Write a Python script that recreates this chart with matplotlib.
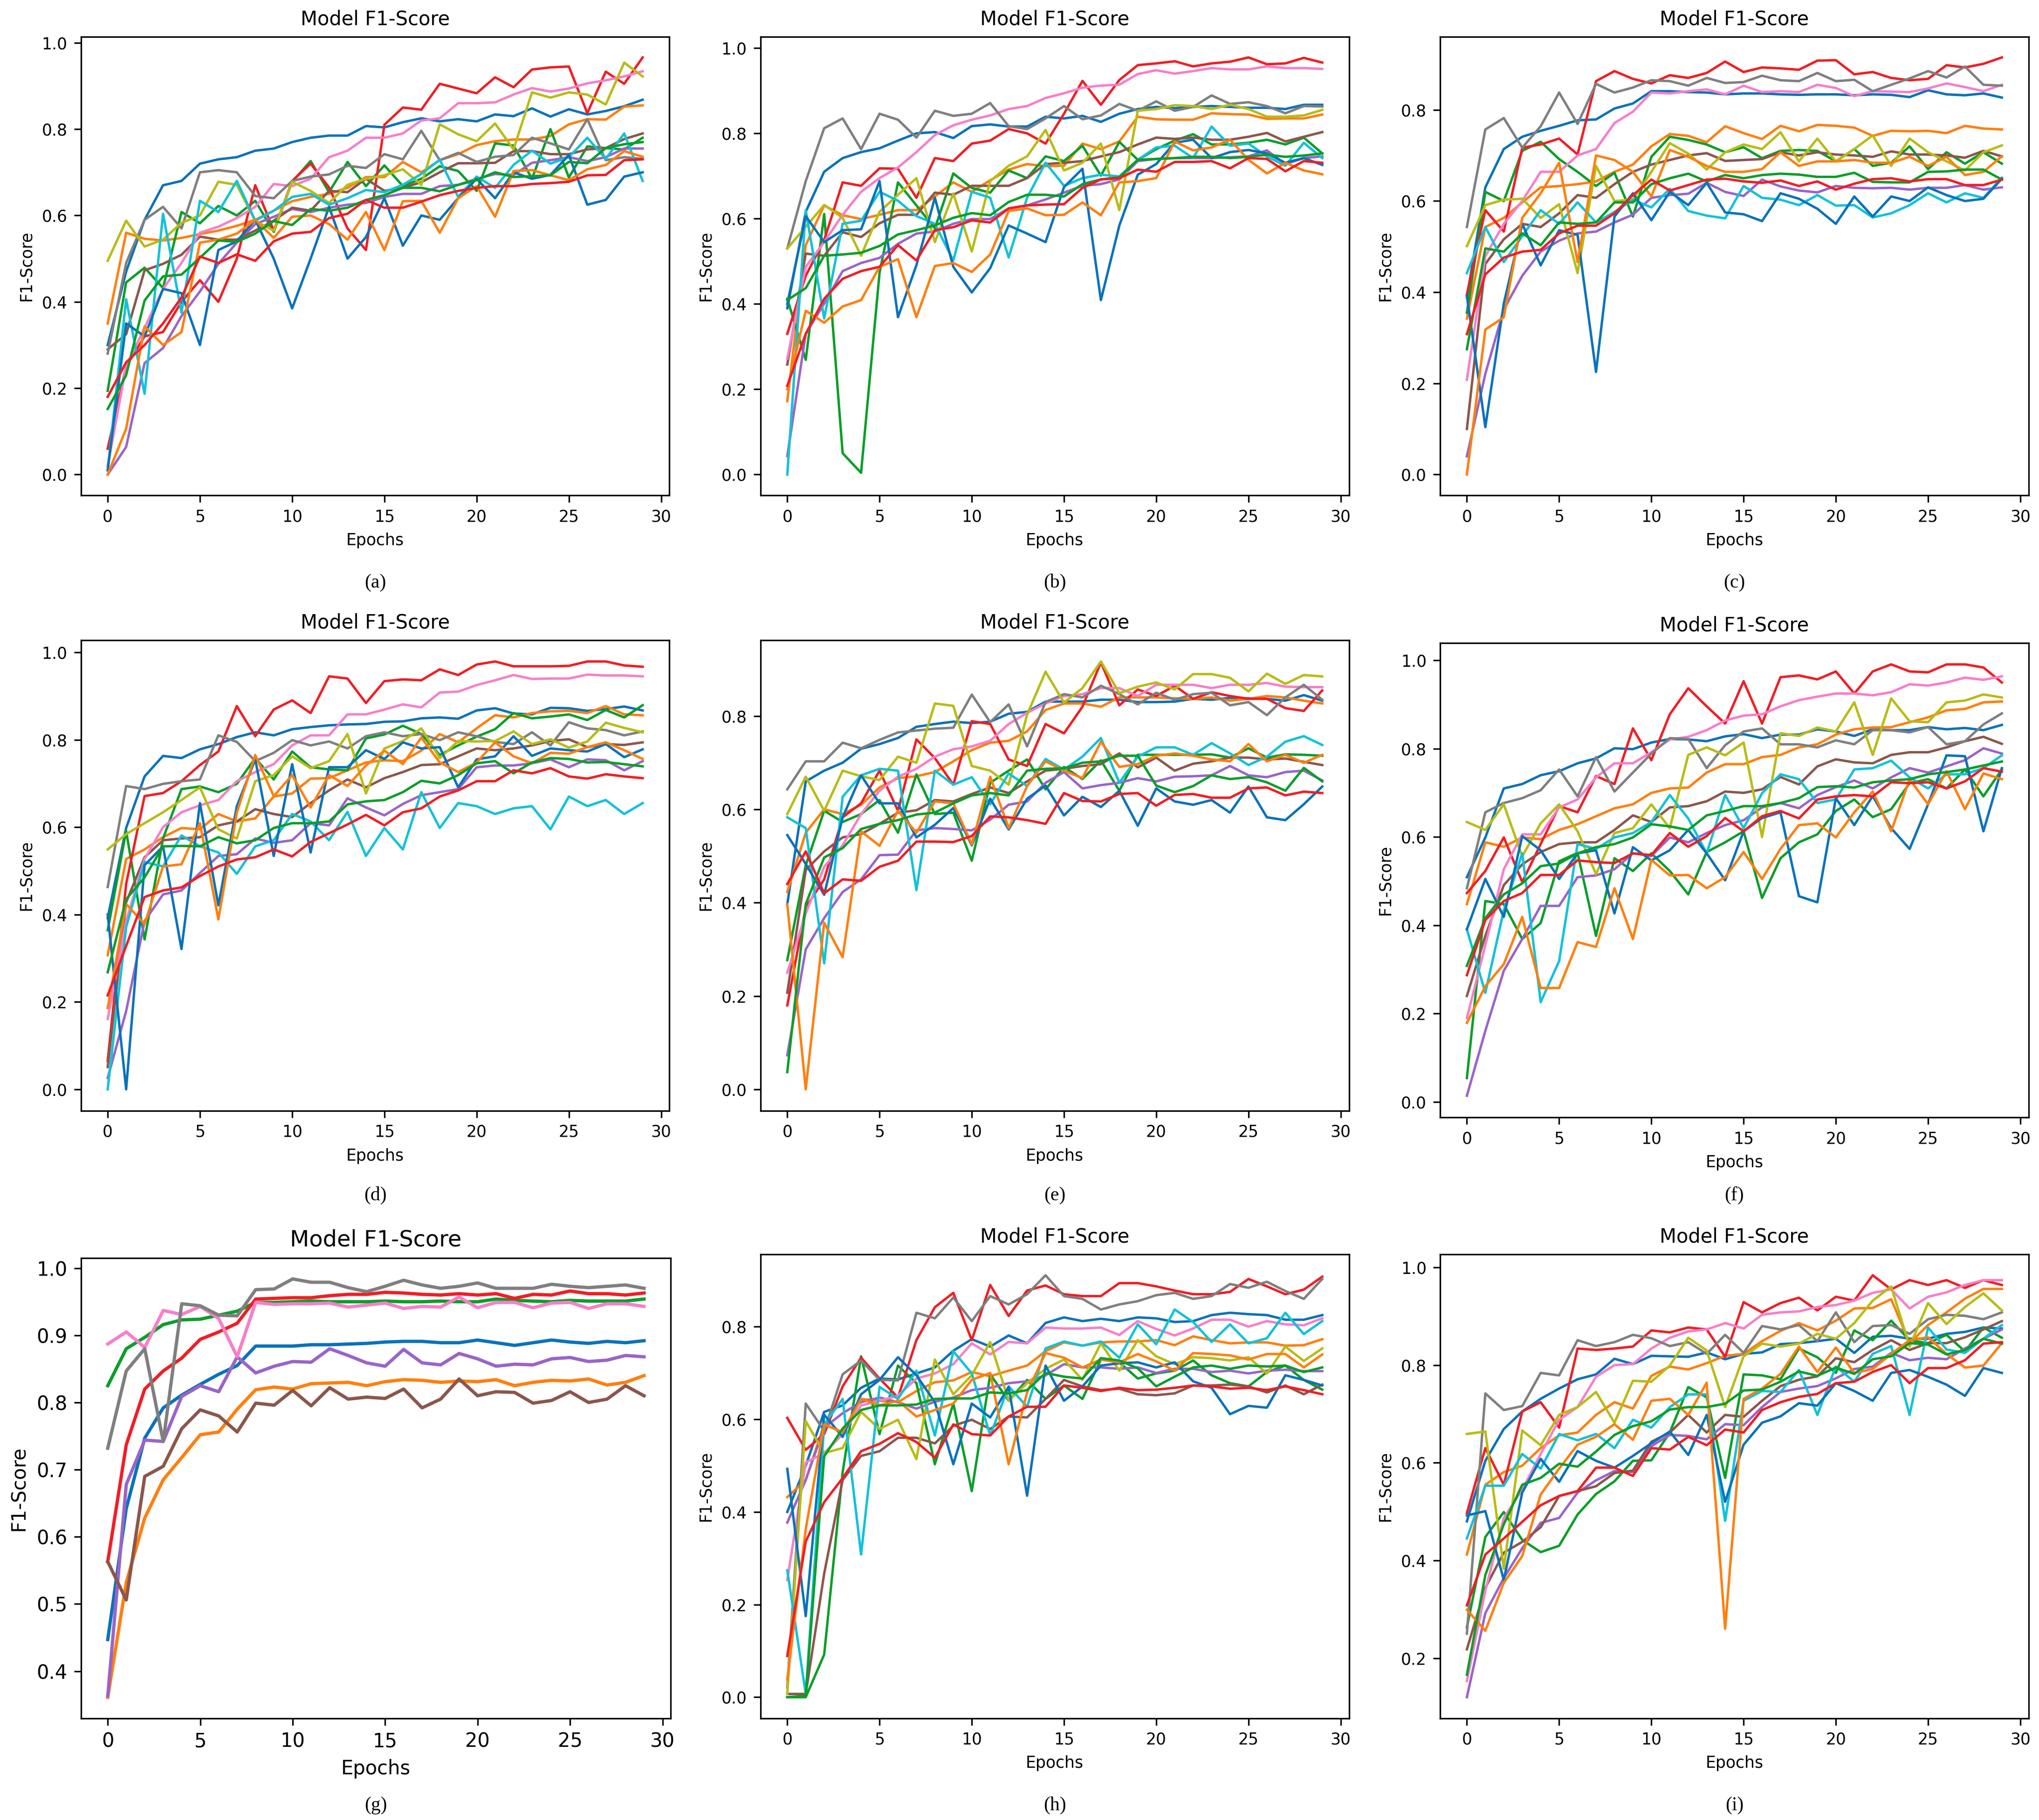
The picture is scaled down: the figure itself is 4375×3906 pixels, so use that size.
import matplotlib.pyplot as plt

epochs = list(range(30))

# tab10 order, a bit more saturated like the scanned figure
line_colors = ['#0a72ba', '#ff7f0e', '#0b9e2a', '#f21d24', '#9a64c8',
               '#8c564b', '#f77fc9', '#7f7f7f', '#b8bc14', '#12c2d8']

panel_a = [
    [0.30,0.47,0.59,0.67,0.68,0.72,0.73,0.735,0.75,0.755,0.77,0.78,0.785,0.785,0.807,0.804,0.816,0.825,0.818,0.823,0.818,0.834,0.83,0.848,0.829,0.846,0.834,0.842,0.853,0.868],
    [0.35,0.56,0.546,0.542,0.548,0.557,0.565,0.576,0.59,0.611,0.633,0.643,0.65,0.664,0.689,0.689,0.724,0.70,0.728,0.742,0.763,0.772,0.776,0.776,0.784,0.811,0.823,0.822,0.852,0.855],
    [0.194,0.445,0.479,0.432,0.608,0.582,0.622,0.60,0.634,0.562,0.678,0.726,0.654,0.724,0.668,0.716,0.668,0.685,0.714,0.703,0.657,0.767,0.762,0.685,0.80,0.688,0.76,0.756,0.753,0.78],
    [0.06,0.25,0.32,0.33,0.40,0.45,0.40,0.50,0.67,0.565,0.68,0.72,0.665,0.57,0.52,0.81,0.85,0.845,0.905,0.894,0.883,0.92,0.897,0.938,0.943,0.945,0.837,0.933,0.905,0.966],
    [0.0,0.064,0.258,0.293,0.367,0.424,0.488,0.537,0.58,0.597,0.615,0.608,0.618,0.625,0.629,0.643,0.65,0.65,0.668,0.671,0.685,0.696,0.694,0.722,0.728,0.735,0.726,0.735,0.755,0.755],
    [0.29,0.325,0.473,0.488,0.509,0.551,0.544,0.544,0.565,0.588,0.618,0.611,0.657,0.654,0.685,0.657,0.664,0.677,0.70,0.721,0.721,0.722,0.749,0.749,0.742,0.742,0.753,0.756,0.777,0.79],
    [0.02,0.25,0.34,0.43,0.49,0.56,0.574,0.594,0.62,0.673,0.668,0.685,0.735,0.75,0.78,0.78,0.79,0.82,0.825,0.86,0.86,0.862,0.88,0.895,0.887,0.894,0.906,0.913,0.922,0.934],
    [0.28,0.49,0.59,0.62,0.57,0.70,0.705,0.70,0.645,0.64,0.68,0.69,0.695,0.715,0.71,0.742,0.73,0.796,0.728,0.745,0.724,0.736,0.74,0.78,0.767,0.753,0.823,0.728,0.735,0.731],
    [0.495,0.588,0.528,0.544,0.583,0.60,0.678,0.671,0.587,0.565,0.678,0.657,0.629,0.671,0.685,0.693,0.707,0.671,0.811,0.788,0.772,0.813,0.753,0.885,0.873,0.885,0.88,0.857,0.954,0.922],
    [0.01,0.406,0.187,0.604,0.375,0.634,0.608,0.68,0.588,0.611,0.643,0.65,0.625,0.64,0.659,0.654,0.671,0.696,0.729,0.643,0.69,0.664,0.717,0.75,0.72,0.735,0.78,0.731,0.79,0.68],
    [0.01,0.35,0.32,0.43,0.42,0.30,0.52,0.54,0.59,0.50,0.385,0.50,0.62,0.50,0.55,0.64,0.53,0.60,0.59,0.64,0.685,0.64,0.70,0.685,0.694,0.74,0.625,0.636,0.69,0.70],
    [0.0,0.106,0.343,0.30,0.33,0.537,0.544,0.558,0.59,0.548,0.597,0.60,0.58,0.544,0.608,0.52,0.633,0.634,0.56,0.64,0.668,0.597,0.703,0.705,0.693,0.682,0.707,0.717,0.749,0.736],
    [0.152,0.23,0.403,0.459,0.463,0.502,0.542,0.539,0.558,0.587,0.578,0.615,0.611,0.618,0.636,0.647,0.664,0.664,0.656,0.671,0.682,0.70,0.689,0.691,0.693,0.724,0.721,0.756,0.765,0.77],
    [0.18,0.26,0.30,0.35,0.41,0.505,0.49,0.51,0.495,0.54,0.558,0.562,0.594,0.604,0.636,0.618,0.618,0.632,0.647,0.657,0.664,0.668,0.668,0.673,0.675,0.678,0.693,0.694,0.728,0.73],
]

panel_b = [
    [0.39,0.616,0.71,0.742,0.756,0.765,0.783,0.80,0.803,0.789,0.817,0.821,0.816,0.816,0.839,0.835,0.841,0.827,0.846,0.857,0.862,0.859,0.862,0.864,0.862,0.86,0.86,0.857,0.867,0.867],
    [0.172,0.538,0.631,0.608,0.599,0.609,0.62,0.62,0.652,0.685,0.663,0.69,0.715,0.728,0.723,0.724,0.776,0.763,0.781,0.839,0.833,0.832,0.832,0.847,0.845,0.844,0.834,0.835,0.835,0.844],
    [0.412,0.269,0.611,0.05,0.004,0.473,0.685,0.631,0.577,0.706,0.672,0.661,0.713,0.695,0.746,0.735,0.771,0.701,0.78,0.738,0.763,0.783,0.798,0.774,0.774,0.778,0.785,0.774,0.79,0.753],
    [0.33,0.466,0.55,0.685,0.677,0.718,0.717,0.649,0.742,0.735,0.776,0.783,0.81,0.80,0.776,0.846,0.923,0.867,0.925,0.96,0.964,0.969,0.957,0.964,0.968,0.978,0.962,0.964,0.977,0.966],
    [0.043,0.33,0.401,0.477,0.496,0.508,0.541,0.565,0.57,0.588,0.599,0.599,0.624,0.631,0.645,0.661,0.677,0.681,0.692,0.735,0.74,0.742,0.742,0.742,0.744,0.746,0.76,0.728,0.742,0.746],
    [0.258,0.518,0.513,0.568,0.557,0.589,0.609,0.609,0.661,0.656,0.677,0.677,0.677,0.695,0.728,0.731,0.735,0.746,0.756,0.774,0.79,0.787,0.79,0.785,0.785,0.792,0.801,0.781,0.792,0.803],
    [0.272,0.487,0.545,0.609,0.663,0.695,0.72,0.756,0.796,0.819,0.832,0.842,0.857,0.864,0.883,0.894,0.907,0.912,0.914,0.939,0.948,0.94,0.946,0.953,0.95,0.95,0.957,0.953,0.953,0.951],
    [0.53,0.688,0.812,0.835,0.763,0.846,0.832,0.79,0.853,0.841,0.846,0.871,0.817,0.81,0.835,0.864,0.833,0.842,0.869,0.853,0.875,0.853,0.862,0.889,0.869,0.873,0.864,0.847,0.864,0.863],
    [0.53,0.581,0.632,0.602,0.513,0.616,0.656,0.695,0.545,0.659,0.523,0.688,0.724,0.746,0.808,0.713,0.731,0.776,0.62,0.853,0.857,0.866,0.864,0.857,0.867,0.857,0.839,0.839,0.842,0.855],
    [0.0,0.62,0.366,0.588,0.595,0.663,0.642,0.606,0.588,0.502,0.663,0.649,0.509,0.649,0.731,0.677,0.695,0.703,0.699,0.738,0.767,0.771,0.742,0.816,0.771,0.776,0.746,0.724,0.778,0.742],
    [0.40,0.606,0.545,0.573,0.575,0.688,0.369,0.491,0.649,0.487,0.427,0.484,0.584,0.565,0.545,0.674,0.717,0.409,0.584,0.703,0.728,0.778,0.785,0.742,0.756,0.761,0.753,0.731,0.742,0.726],
    [0.20,0.384,0.356,0.394,0.409,0.487,0.505,0.369,0.489,0.496,0.475,0.516,0.618,0.624,0.608,0.609,0.638,0.608,0.685,0.688,0.695,0.781,0.76,0.767,0.785,0.738,0.706,0.731,0.713,0.704],
    [0.409,0.437,0.513,0.516,0.52,0.536,0.563,0.573,0.584,0.602,0.613,0.608,0.639,0.656,0.656,0.652,0.681,0.692,0.697,0.738,0.74,0.742,0.745,0.745,0.742,0.745,0.75,0.745,0.748,0.753],
    [0.208,0.33,0.412,0.459,0.477,0.487,0.538,0.502,0.573,0.58,0.596,0.591,0.624,0.631,0.633,0.634,0.672,0.692,0.695,0.715,0.71,0.733,0.733,0.735,0.718,0.742,0.74,0.711,0.735,0.731],
]

panel_c = [
    [0.389,0.63,0.714,0.741,0.754,0.765,0.777,0.779,0.803,0.814,0.841,0.841,0.839,0.838,0.834,0.836,0.836,0.834,0.833,0.834,0.834,0.832,0.834,0.833,0.828,0.843,0.834,0.832,0.836,0.827],
    [0.342,0.543,0.563,0.597,0.63,0.633,0.637,0.643,0.664,0.68,0.72,0.747,0.743,0.729,0.764,0.749,0.736,0.765,0.753,0.767,0.765,0.761,0.743,0.754,0.753,0.754,0.749,0.765,0.759,0.757],
    [0.355,0.62,0.60,0.71,0.73,0.692,0.664,0.633,0.662,0.566,0.697,0.741,0.734,0.724,0.707,0.718,0.694,0.71,0.712,0.71,0.687,0.714,0.677,0.684,0.72,0.67,0.707,0.682,0.707,0.682],
    [0.395,0.58,0.533,0.717,0.724,0.737,0.702,0.863,0.885,0.868,0.858,0.876,0.87,0.881,0.906,0.883,0.893,0.891,0.888,0.908,0.909,0.878,0.883,0.87,0.865,0.868,0.898,0.893,0.901,0.915],
    [0.04,0.221,0.362,0.436,0.489,0.513,0.529,0.533,0.553,0.57,0.607,0.613,0.616,0.64,0.62,0.611,0.647,0.632,0.623,0.619,0.633,0.629,0.628,0.629,0.625,0.629,0.629,0.635,0.625,0.63],
    [0.10,0.462,0.516,0.55,0.543,0.573,0.613,0.607,0.637,0.664,0.68,0.69,0.70,0.705,0.688,0.69,0.692,0.707,0.70,0.707,0.702,0.70,0.697,0.709,0.702,0.702,0.70,0.695,0.71,0.698],
    [0.208,0.479,0.55,0.60,0.664,0.664,0.70,0.714,0.771,0.796,0.838,0.836,0.841,0.845,0.834,0.853,0.839,0.841,0.839,0.855,0.848,0.83,0.841,0.84,0.839,0.847,0.858,0.85,0.841,0.855],
    [0.543,0.757,0.782,0.717,0.764,0.838,0.769,0.857,0.838,0.849,0.865,0.863,0.853,0.87,0.859,0.861,0.875,0.865,0.863,0.881,0.863,0.866,0.841,0.855,0.869,0.885,0.871,0.895,0.855,0.853],
    [0.501,0.591,0.603,0.605,0.563,0.593,0.442,0.677,0.60,0.603,0.664,0.727,0.704,0.669,0.707,0.724,0.714,0.751,0.687,0.737,0.687,0.714,0.744,0.677,0.737,0.707,0.687,0.667,0.707,0.722],
    [0.442,0.543,0.466,0.523,0.58,0.55,0.597,0.553,0.576,0.603,0.586,0.627,0.578,0.568,0.562,0.633,0.607,0.603,0.591,0.613,0.59,0.591,0.564,0.573,0.591,0.617,0.597,0.617,0.607,0.651],
    [0.392,0.104,0.375,0.55,0.459,0.536,0.526,0.225,0.566,0.617,0.558,0.62,0.591,0.64,0.575,0.571,0.556,0.617,0.605,0.583,0.55,0.61,0.566,0.61,0.60,0.63,0.613,0.60,0.605,0.649],
    [0.0,0.318,0.345,0.563,0.617,0.684,0.466,0.70,0.69,0.664,0.61,0.712,0.697,0.677,0.664,0.664,0.67,0.707,0.677,0.687,0.687,0.69,0.684,0.684,0.697,0.677,0.697,0.657,0.664,0.698],
    [0.275,0.496,0.489,0.529,0.503,0.553,0.55,0.553,0.597,0.597,0.637,0.65,0.66,0.643,0.657,0.65,0.657,0.66,0.658,0.653,0.653,0.662,0.642,0.641,0.641,0.664,0.665,0.669,0.669,0.647],
    [0.308,0.439,0.476,0.489,0.493,0.529,0.546,0.546,0.573,0.613,0.647,0.623,0.635,0.647,0.649,0.643,0.64,0.645,0.633,0.643,0.625,0.638,0.648,0.65,0.643,0.648,0.648,0.635,0.635,0.647],
]

panel_d = [
    [0.392,0.598,0.716,0.763,0.758,0.778,0.79,0.806,0.817,0.81,0.824,0.829,0.833,0.835,0.836,0.841,0.842,0.849,0.851,0.848,0.867,0.872,0.86,0.858,0.873,0.872,0.866,0.87,0.876,0.867],
    [0.307,0.527,0.549,0.577,0.598,0.595,0.63,0.613,0.62,0.67,0.677,0.711,0.712,0.73,0.748,0.753,0.751,0.775,0.813,0.794,0.826,0.856,0.851,0.861,0.865,0.866,0.861,0.877,0.858,0.856],
    [0.364,0.591,0.343,0.574,0.687,0.693,0.68,0.699,0.758,0.709,0.773,0.737,0.732,0.73,0.803,0.812,0.832,0.813,0.765,0.787,0.807,0.824,0.861,0.849,0.853,0.858,0.845,0.868,0.851,0.879],
    [0.065,0.47,0.671,0.678,0.705,0.742,0.773,0.877,0.808,0.869,0.89,0.861,0.945,0.94,0.884,0.934,0.938,0.936,0.961,0.948,0.972,0.979,0.968,0.968,0.968,0.969,0.979,0.979,0.97,0.967],
    [0.026,0.179,0.385,0.446,0.455,0.495,0.534,0.538,0.574,0.564,0.57,0.609,0.604,0.666,0.645,0.627,0.653,0.673,0.68,0.687,0.737,0.741,0.741,0.746,0.755,0.737,0.755,0.753,0.73,0.751],
    [0.051,0.428,0.531,0.57,0.574,0.577,0.604,0.613,0.641,0.63,0.623,0.655,0.684,0.709,0.691,0.712,0.726,0.742,0.744,0.762,0.78,0.776,0.78,0.787,0.797,0.801,0.783,0.79,0.788,0.794],
    [0.161,0.385,0.527,0.60,0.634,0.65,0.662,0.705,0.726,0.744,0.787,0.81,0.81,0.858,0.858,0.869,0.881,0.874,0.908,0.91,0.925,0.936,0.948,0.939,0.94,0.94,0.949,0.947,0.947,0.945],
    [0.463,0.694,0.687,0.699,0.705,0.709,0.81,0.795,0.751,0.77,0.799,0.787,0.796,0.78,0.808,0.817,0.808,0.813,0.799,0.817,0.808,0.795,0.79,0.817,0.787,0.84,0.826,0.822,0.81,0.819],
    [0.549,0.584,0.609,0.634,0.662,0.691,0.595,0.574,0.705,0.719,0.762,0.735,0.751,0.813,0.677,0.78,0.797,0.826,0.758,0.797,0.796,0.797,0.819,0.79,0.801,0.782,0.796,0.839,0.827,0.817],
    [0.0,0.371,0.52,0.51,0.581,0.556,0.542,0.493,0.556,0.57,0.63,0.613,0.57,0.635,0.534,0.598,0.549,0.68,0.598,0.655,0.648,0.63,0.643,0.648,0.595,0.67,0.648,0.662,0.63,0.655],
    [0.40,0.0,0.513,0.556,0.321,0.655,0.421,0.648,0.755,0.534,0.744,0.542,0.737,0.737,0.776,0.756,0.794,0.78,0.783,0.691,0.755,0.762,0.808,0.763,0.78,0.776,0.773,0.79,0.76,0.778],
    [0.186,0.424,0.378,0.51,0.515,0.609,0.389,0.633,0.765,0.671,0.719,0.645,0.719,0.694,0.741,0.775,0.744,0.805,0.748,0.726,0.748,0.794,0.762,0.746,0.77,0.768,0.783,0.794,0.776,0.756],
    [0.268,0.435,0.485,0.556,0.557,0.556,0.577,0.563,0.57,0.598,0.609,0.609,0.613,0.652,0.659,0.662,0.68,0.706,0.70,0.719,0.746,0.751,0.723,0.748,0.758,0.756,0.748,0.749,0.744,0.739],
    [0.215,0.328,0.44,0.455,0.462,0.488,0.51,0.526,0.531,0.549,0.533,0.566,0.586,0.606,0.628,0.604,0.634,0.643,0.67,0.684,0.705,0.705,0.73,0.723,0.735,0.716,0.711,0.721,0.716,0.712],
]

panel_e = [
    [0.397,0.66,0.683,0.70,0.73,0.74,0.753,0.777,0.783,0.788,0.785,0.788,0.805,0.809,0.831,0.831,0.831,0.835,0.835,0.83,0.83,0.831,0.837,0.835,0.839,0.838,0.837,0.833,0.845,0.833],
    [0.423,0.55,0.60,0.59,0.61,0.647,0.667,0.671,0.68,0.703,0.727,0.743,0.747,0.767,0.813,0.827,0.827,0.82,0.84,0.84,0.84,0.838,0.837,0.84,0.833,0.837,0.843,0.84,0.833,0.827],
    [0.277,0.48,0.597,0.573,0.59,0.62,0.55,0.675,0.59,0.593,0.49,0.657,0.683,0.707,0.643,0.691,0.665,0.705,0.64,0.717,0.717,0.717,0.717,0.718,0.711,0.731,0.711,0.718,0.717,0.715],
    [0.18,0.39,0.45,0.583,0.613,0.683,0.597,0.75,0.71,0.653,0.789,0.783,0.707,0.693,0.783,0.763,0.82,0.915,0.823,0.857,0.843,0.865,0.837,0.851,0.843,0.837,0.837,0.817,0.811,0.855],
    [0.073,0.30,0.367,0.423,0.45,0.502,0.503,0.555,0.56,0.558,0.555,0.578,0.61,0.617,0.657,0.68,0.645,0.652,0.657,0.667,0.66,0.67,0.671,0.673,0.693,0.673,0.669,0.68,0.683,0.662],
    [0.207,0.47,0.51,0.54,0.547,0.569,0.593,0.598,0.62,0.617,0.633,0.647,0.635,0.66,0.683,0.687,0.693,0.697,0.72,0.69,0.711,0.683,0.698,0.703,0.711,0.711,0.707,0.709,0.702,0.695],
    [0.25,0.377,0.477,0.523,0.59,0.64,0.67,0.687,0.713,0.729,0.735,0.747,0.783,0.807,0.827,0.843,0.847,0.86,0.86,0.843,0.867,0.867,0.867,0.86,0.867,0.867,0.871,0.863,0.862,0.862],
    [0.643,0.703,0.703,0.743,0.731,0.749,0.765,0.769,0.773,0.775,0.846,0.787,0.825,0.735,0.83,0.847,0.84,0.865,0.847,0.825,0.85,0.835,0.847,0.85,0.823,0.83,0.802,0.84,0.867,0.835],
    [0.59,0.67,0.597,0.683,0.671,0.663,0.713,0.70,0.827,0.822,0.693,0.683,0.653,0.803,0.895,0.829,0.86,0.917,0.849,0.863,0.872,0.857,0.89,0.89,0.882,0.853,0.891,0.869,0.888,0.885],
    [0.583,0.56,0.27,0.627,0.673,0.687,0.683,0.427,0.683,0.653,0.669,0.611,0.677,0.65,0.708,0.685,0.713,0.753,0.657,0.713,0.733,0.733,0.717,0.742,0.72,0.695,0.713,0.745,0.757,0.738],
    [0.545,0.483,0.417,0.583,0.673,0.613,0.613,0.54,0.567,0.603,0.523,0.623,0.557,0.623,0.651,0.587,0.627,0.605,0.64,0.565,0.645,0.617,0.61,0.62,0.593,0.649,0.583,0.577,0.611,0.649],
    [0.397,0.0,0.357,0.283,0.553,0.522,0.597,0.55,0.617,0.613,0.525,0.67,0.56,0.65,0.703,0.683,0.667,0.745,0.691,0.697,0.715,0.72,0.715,0.707,0.703,0.74,0.703,0.717,0.70,0.717],
    [0.037,0.397,0.497,0.517,0.558,0.569,0.577,0.589,0.593,0.613,0.63,0.635,0.63,0.683,0.687,0.688,0.70,0.703,0.715,0.715,0.651,0.637,0.65,0.673,0.665,0.669,0.658,0.64,0.689,0.66],
    [0.44,0.51,0.42,0.45,0.447,0.477,0.49,0.531,0.531,0.53,0.543,0.585,0.583,0.577,0.569,0.635,0.618,0.617,0.633,0.635,0.608,0.631,0.633,0.625,0.625,0.645,0.647,0.63,0.638,0.635],
]

panel_f = [
    [0.509,0.599,0.71,0.72,0.74,0.749,0.767,0.778,0.801,0.799,0.814,0.822,0.821,0.817,0.828,0.833,0.824,0.832,0.832,0.844,0.839,0.829,0.844,0.842,0.842,0.849,0.844,0.847,0.842,0.854],
    [0.448,0.588,0.578,0.599,0.595,0.616,0.629,0.647,0.665,0.674,0.70,0.71,0.712,0.746,0.765,0.765,0.781,0.786,0.803,0.81,0.832,0.844,0.848,0.849,0.86,0.871,0.887,0.89,0.905,0.907],
    [0.054,0.455,0.448,0.369,0.405,0.545,0.564,0.376,0.552,0.523,0.563,0.523,0.47,0.566,0.588,0.613,0.462,0.552,0.588,0.606,0.659,0.685,0.645,0.663,0.722,0.731,0.71,0.753,0.692,0.753],
    [0.473,0.523,0.599,0.498,0.584,0.67,0.656,0.738,0.72,0.846,0.774,0.878,0.937,0.896,0.857,0.953,0.857,0.962,0.966,0.957,0.975,0.925,0.975,0.991,0.975,0.973,0.991,0.991,0.984,0.95],
    [0.014,0.161,0.297,0.369,0.444,0.444,0.509,0.513,0.527,0.563,0.557,0.599,0.588,0.609,0.627,0.638,0.667,0.677,0.665,0.695,0.713,0.728,0.71,0.735,0.756,0.746,0.76,0.774,0.801,0.789],
    [0.24,0.376,0.491,0.538,0.566,0.584,0.588,0.588,0.616,0.649,0.634,0.667,0.67,0.681,0.703,0.70,0.708,0.736,0.719,0.76,0.776,0.769,0.767,0.786,0.792,0.792,0.803,0.817,0.827,0.811],
    [0.19,0.355,0.527,0.606,0.606,0.667,0.685,0.735,0.767,0.767,0.792,0.821,0.827,0.842,0.864,0.875,0.878,0.896,0.91,0.918,0.925,0.925,0.921,0.928,0.946,0.943,0.95,0.961,0.956,0.964],
    [0.484,0.656,0.677,0.688,0.706,0.753,0.692,0.781,0.703,0.746,0.789,0.824,0.822,0.756,0.808,0.839,0.846,0.81,0.81,0.803,0.819,0.81,0.842,0.842,0.837,0.849,0.81,0.817,0.855,0.88],
    [0.634,0.616,0.674,0.556,0.631,0.674,0.613,0.516,0.609,0.62,0.674,0.62,0.786,0.803,0.785,0.814,0.60,0.835,0.829,0.848,0.839,0.905,0.786,0.914,0.862,0.86,0.905,0.909,0.923,0.916],
    [0.391,0.247,0.434,0.563,0.226,0.319,0.584,0.573,0.599,0.609,0.634,0.695,0.642,0.563,0.695,0.62,0.699,0.742,0.731,0.677,0.685,0.753,0.756,0.773,0.735,0.71,0.742,0.742,0.756,0.785],
    [0.391,0.505,0.419,0.602,0.57,0.505,0.563,0.57,0.427,0.577,0.547,0.57,0.616,0.563,0.502,0.613,0.643,0.656,0.466,0.452,0.688,0.627,0.693,0.62,0.573,0.674,0.785,0.783,0.613,0.756],
    [0.179,0.262,0.312,0.419,0.258,0.258,0.362,0.351,0.484,0.369,0.548,0.513,0.514,0.484,0.509,0.566,0.505,0.573,0.627,0.631,0.599,0.656,0.703,0.613,0.731,0.674,0.749,0.663,0.744,0.731],
    [0.308,0.416,0.47,0.495,0.534,0.54,0.563,0.577,0.584,0.599,0.629,0.624,0.616,0.649,0.659,0.67,0.67,0.677,0.688,0.713,0.715,0.712,0.724,0.728,0.731,0.742,0.747,0.753,0.762,0.771],
    [0.287,0.412,0.455,0.473,0.514,0.514,0.547,0.543,0.541,0.563,0.559,0.609,0.578,0.602,0.643,0.613,0.647,0.659,0.642,0.685,0.692,0.695,0.692,0.724,0.722,0.724,0.71,0.726,0.756,0.748],
]

# (g) only has 8 runs
panel_g = [
    [0.447,0.642,0.747,0.792,0.811,0.827,0.842,0.855,0.884,0.884,0.884,0.886,0.886,0.887,0.888,0.89,0.891,0.891,0.889,0.889,0.893,0.889,0.885,0.889,0.893,0.89,0.888,0.891,0.889,0.892],
    [0.361,0.532,0.628,0.685,0.718,0.752,0.756,0.79,0.819,0.823,0.82,0.828,0.829,0.83,0.825,0.831,0.834,0.833,0.83,0.832,0.831,0.834,0.825,0.83,0.833,0.832,0.835,0.826,0.83,0.84],
    [0.825,0.88,0.897,0.916,0.923,0.924,0.93,0.936,0.949,0.949,0.95,0.951,0.95,0.95,0.95,0.951,0.95,0.95,0.951,0.95,0.95,0.954,0.952,0.951,0.95,0.952,0.951,0.951,0.951,0.954],
    [0.563,0.737,0.82,0.847,0.866,0.894,0.905,0.918,0.954,0.955,0.956,0.956,0.959,0.961,0.961,0.964,0.963,0.961,0.96,0.962,0.96,0.962,0.955,0.961,0.96,0.966,0.962,0.962,0.96,0.963],
    [0.363,0.678,0.744,0.742,0.809,0.825,0.816,0.868,0.844,0.854,0.861,0.86,0.88,0.87,0.859,0.854,0.879,0.859,0.856,0.873,0.865,0.854,0.857,0.856,0.865,0.867,0.861,0.863,0.87,0.868],
    [0.563,0.506,0.69,0.705,0.761,0.789,0.78,0.756,0.799,0.796,0.818,0.795,0.822,0.805,0.808,0.806,0.82,0.792,0.805,0.835,0.81,0.816,0.815,0.799,0.803,0.816,0.80,0.805,0.825,0.81],
    [0.887,0.905,0.882,0.937,0.931,0.943,0.925,0.868,0.949,0.946,0.947,0.947,0.948,0.942,0.945,0.948,0.94,0.943,0.942,0.957,0.941,0.949,0.949,0.941,0.948,0.949,0.94,0.947,0.947,0.943],
    [0.732,0.847,0.88,0.742,0.947,0.944,0.93,0.929,0.968,0.969,0.984,0.979,0.979,0.971,0.965,0.973,0.982,0.975,0.97,0.973,0.978,0.97,0.97,0.97,0.976,0.973,0.971,0.973,0.975,0.97],
]

panel_h = [
    [0.40,0.50,0.616,0.63,0.668,0.688,0.686,0.699,0.712,0.748,0.773,0.757,0.781,0.764,0.808,0.82,0.812,0.817,0.812,0.82,0.818,0.81,0.812,0.825,0.83,0.827,0.825,0.815,0.815,0.825],
    [0.432,0.469,0.589,0.572,0.644,0.64,0.637,0.661,0.68,0.684,0.702,0.693,0.705,0.716,0.747,0.766,0.759,0.766,0.768,0.768,0.771,0.76,0.779,0.771,0.764,0.766,0.766,0.759,0.76,0.773],
    [0.0,0.0,0.092,0.486,0.736,0.568,0.716,0.678,0.503,0.634,0.445,0.697,0.64,0.685,0.644,0.673,0.644,0.729,0.723,0.688,0.699,0.705,0.727,0.695,0.678,0.671,0.702,0.716,0.685,0.664],
    [0.603,0.534,0.568,0.671,0.733,0.688,0.647,0.771,0.842,0.873,0.771,0.89,0.823,0.878,0.889,0.87,0.866,0.866,0.894,0.894,0.887,0.878,0.87,0.87,0.875,0.903,0.887,0.87,0.88,0.908],
    [0.377,0.469,0.582,0.613,0.637,0.647,0.637,0.623,0.638,0.647,0.663,0.668,0.678,0.682,0.695,0.719,0.712,0.712,0.709,0.712,0.70,0.709,0.709,0.702,0.705,0.699,0.705,0.707,0.704,0.704],
    [0.007,0.007,0.267,0.469,0.521,0.531,0.56,0.56,0.548,0.586,0.599,0.579,0.606,0.604,0.644,0.685,0.671,0.663,0.666,0.654,0.652,0.656,0.673,0.673,0.675,0.671,0.658,0.673,0.654,0.675],
    [0.253,0.507,0.527,0.568,0.63,0.64,0.651,0.688,0.699,0.719,0.764,0.74,0.767,0.764,0.798,0.796,0.796,0.798,0.782,0.812,0.795,0.781,0.796,0.815,0.815,0.80,0.812,0.805,0.803,0.818],
    [0.021,0.634,0.575,0.697,0.727,0.685,0.684,0.83,0.818,0.863,0.812,0.866,0.848,0.87,0.911,0.866,0.86,0.837,0.848,0.855,0.868,0.873,0.86,0.866,0.892,0.884,0.897,0.877,0.86,0.903],
    [0.007,0.596,0.527,0.538,0.616,0.579,0.599,0.514,0.729,0.654,0.695,0.767,0.64,0.678,0.709,0.729,0.685,0.764,0.705,0.771,0.736,0.719,0.734,0.732,0.727,0.734,0.699,0.757,0.726,0.753],
    [0.274,0.007,0.589,0.644,0.308,0.67,0.644,0.705,0.565,0.747,0.699,0.565,0.671,0.627,0.753,0.768,0.759,0.768,0.733,0.805,0.762,0.837,0.81,0.767,0.805,0.764,0.775,0.83,0.784,0.812],
    [0.493,0.175,0.61,0.562,0.654,0.685,0.734,0.695,0.637,0.503,0.634,0.604,0.67,0.435,0.716,0.64,0.671,0.716,0.721,0.723,0.712,0.723,0.682,0.668,0.611,0.629,0.625,0.695,0.685,0.673],
    [0.038,0.363,0.589,0.572,0.644,0.63,0.64,0.606,0.62,0.634,0.685,0.70,0.503,0.658,0.743,0.733,0.712,0.729,0.723,0.741,0.725,0.705,0.743,0.741,0.738,0.729,0.741,0.741,0.712,0.74],
    [0.0,0.003,0.52,0.58,0.62,0.63,0.63,0.632,0.644,0.645,0.645,0.658,0.656,0.663,0.70,0.692,0.688,0.732,0.727,0.71,0.671,0.692,0.712,0.716,0.709,0.716,0.714,0.716,0.702,0.712],
    [0.089,0.336,0.421,0.473,0.531,0.547,0.57,0.551,0.517,0.589,0.568,0.565,0.606,0.627,0.627,0.673,0.668,0.661,0.668,0.663,0.664,0.668,0.673,0.671,0.666,0.668,0.663,0.671,0.663,0.654],
]

panel_i = [
    [0.48,0.604,0.669,0.705,0.731,0.752,0.771,0.781,0.813,0.802,0.819,0.818,0.817,0.826,0.812,0.823,0.826,0.843,0.845,0.849,0.854,0.825,0.858,0.86,0.854,0.854,0.864,0.868,0.877,0.875],
    [0.412,0.555,0.581,0.594,0.63,0.656,0.662,0.698,0.724,0.711,0.778,0.797,0.791,0.804,0.819,0.823,0.849,0.87,0.886,0.871,0.891,0.916,0.917,0.935,0.845,0.882,0.908,0.936,0.956,0.956],
    [0.263,0.448,0.499,0.442,0.417,0.43,0.494,0.536,0.562,0.604,0.605,0.662,0.755,0.734,0.569,0.781,0.779,0.771,0.834,0.816,0.784,0.871,0.851,0.891,0.851,0.845,0.862,0.828,0.877,0.856],
    [0.497,0.63,0.555,0.705,0.724,0.672,0.834,0.831,0.834,0.838,0.871,0.867,0.877,0.873,0.817,0.929,0.908,0.927,0.938,0.912,0.94,0.932,0.984,0.955,0.974,0.964,0.974,0.958,0.974,0.964],
    [0.12,0.292,0.364,0.425,0.477,0.487,0.539,0.564,0.583,0.581,0.634,0.657,0.655,0.648,0.679,0.677,0.714,0.745,0.752,0.757,0.773,0.792,0.797,0.825,0.81,0.815,0.812,0.834,0.854,0.873],
    [0.218,0.344,0.416,0.438,0.468,0.532,0.542,0.552,0.579,0.584,0.643,0.662,0.698,0.662,0.698,0.694,0.727,0.757,0.77,0.777,0.814,0.806,0.831,0.851,0.831,0.845,0.845,0.857,0.873,0.89],
    [0.153,0.338,0.487,0.545,0.618,0.688,0.714,0.776,0.80,0.802,0.834,0.856,0.869,0.873,0.886,0.875,0.903,0.908,0.91,0.919,0.923,0.932,0.948,0.955,0.916,0.94,0.949,0.964,0.974,0.974],
    [0.25,0.742,0.708,0.716,0.784,0.779,0.851,0.839,0.847,0.862,0.855,0.839,0.847,0.823,0.862,0.825,0.88,0.873,0.882,0.849,0.908,0.847,0.88,0.882,0.864,0.894,0.903,0.901,0.894,0.908],
    [0.659,0.664,0.383,0.666,0.636,0.698,0.714,0.745,0.682,0.768,0.766,0.799,0.856,0.83,0.714,0.818,0.844,0.838,0.844,0.864,0.854,0.886,0.932,0.961,0.838,0.927,0.884,0.919,0.947,0.912],
    [0.445,0.553,0.553,0.618,0.588,0.659,0.646,0.659,0.63,0.688,0.672,0.714,0.74,0.74,0.481,0.727,0.747,0.745,0.79,0.698,0.797,0.766,0.823,0.839,0.698,0.877,0.832,0.825,0.854,0.882],
    [0.492,0.501,0.36,0.539,0.608,0.561,0.624,0.604,0.59,0.614,0.64,0.664,0.616,0.698,0.52,0.637,0.682,0.695,0.722,0.717,0.763,0.747,0.727,0.784,0.79,0.776,0.76,0.737,0.794,0.784],
    [0.299,0.256,0.354,0.409,0.535,0.588,0.637,0.653,0.679,0.647,0.727,0.731,0.698,0.764,0.26,0.731,0.752,0.782,0.838,0.786,0.836,0.784,0.792,0.823,0.851,0.857,0.823,0.795,0.799,0.845],
    [0.166,0.37,0.474,0.555,0.569,0.598,0.592,0.623,0.657,0.675,0.685,0.709,0.714,0.714,0.721,0.748,0.75,0.766,0.787,0.778,0.795,0.782,0.812,0.818,0.845,0.842,0.822,0.831,0.854,0.844],
    [0.308,0.412,0.445,0.479,0.513,0.532,0.542,0.59,0.59,0.573,0.63,0.627,0.653,0.636,0.668,0.662,0.708,0.724,0.735,0.741,0.763,0.766,0.786,0.80,0.763,0.794,0.794,0.81,0.844,0.847],
]

panels = [panel_a, panel_b, panel_c, panel_d, panel_e, panel_f, panel_g, panel_h, panel_i]
captions = ['(a)', '(b)', '(c)', '(d)', '(e)', '(f)', '(g)', '(h)', '(i)']

# axes boxes [left, bottom, width, height] in figure fractions
boxes = [
    [0.0397, 0.7278, 0.2886, 0.2521], [0.3730, 0.7278, 0.2886, 0.2521], [0.7063, 0.7278, 0.2886, 0.2521],
    [0.0397, 0.3897, 0.2886, 0.2586], [0.3730, 0.3897, 0.2886, 0.2586], [0.7063, 0.3861, 0.2886, 0.2607],
    [0.0397, 0.0559, 0.2893, 0.2529], [0.3730, 0.0559, 0.2886, 0.2550], [0.7063, 0.0559, 0.2886, 0.2550],
]
caption_y = [0.6798, 0.6798, 0.6798, 0.3431, 0.3431, 0.3431, 0.0079, 0.0079, 0.0079]

fig = plt.figure(figsize=(4375 / 300, 3906 / 300), dpi=300)

for k, series in enumerate(panels):
    ax = fig.add_axes(boxes[k])
    big = (k == 6)  # panel (g) was pasted in at a larger scale
    lw = 1.7 if big else 1.25
    for j, vals in enumerate(series):
        ax.plot(epochs, vals, color=line_colors[j % 10], lw=lw)
    ax.set_xticks([0, 5, 10, 15, 20, 25, 30])
    fs_tick = 10 if big else 8.3
    ax.tick_params(labelsize=fs_tick)
    ax.set_title('Model F1-Score', fontsize=11.5 if big else 10)
    ax.set_xlabel('Epochs', fontsize=fs_tick)
    ax.set_ylabel('F1-Score', fontsize=fs_tick)

    left, bottom, width, height = boxes[k]
    fig.text(left + width / 2, caption_y[k], captions[k], ha='center', va='center',
             fontsize=10, family='Liberation Serif')

fig.savefig('out.png', dpi=300)
